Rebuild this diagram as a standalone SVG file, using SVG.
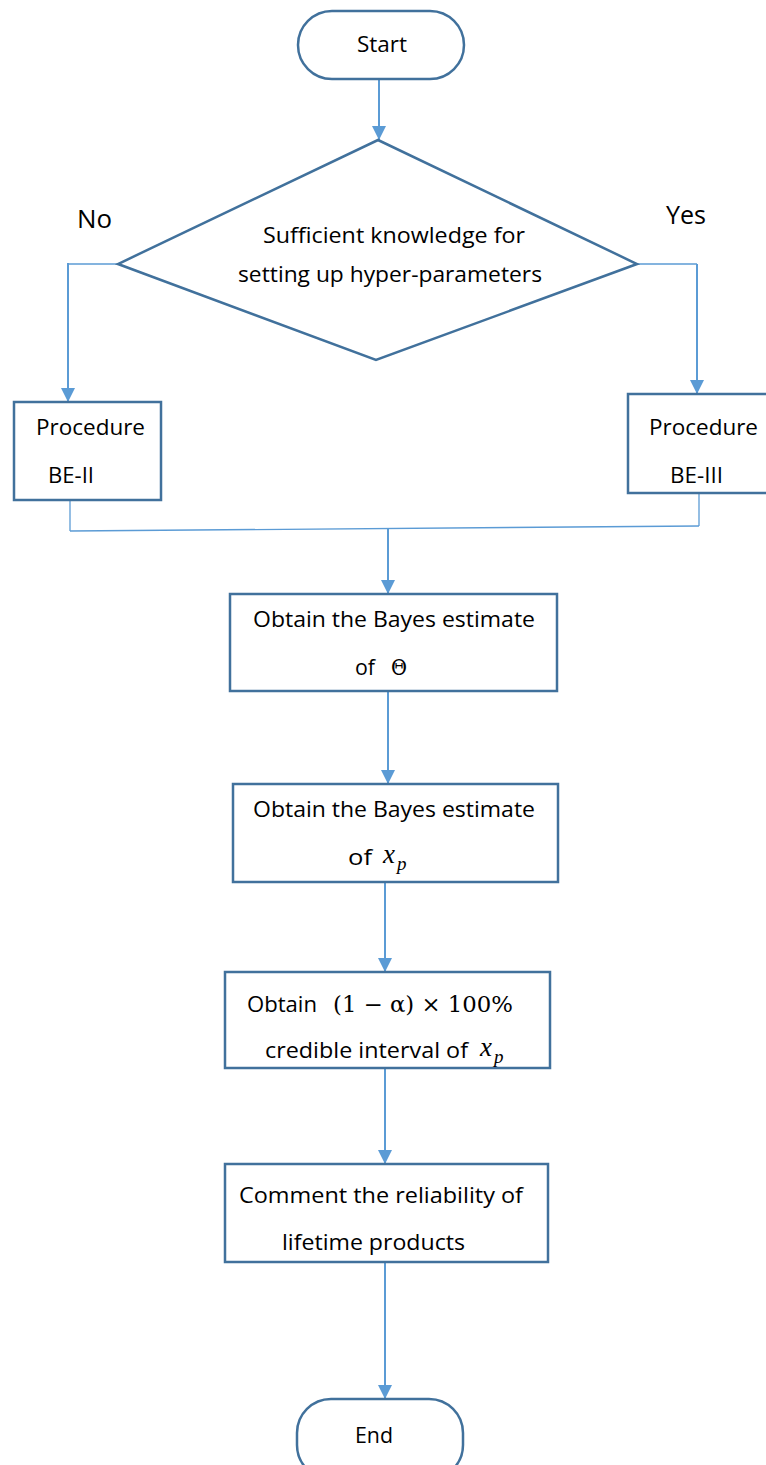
<svg xmlns="http://www.w3.org/2000/svg" width="766" height="1465" viewBox="0 0 766 1465">
<defs>
<style>
.shape{fill:#ffffff;stroke:#41719c;stroke-width:2.5}
.conn{fill:none;stroke:#5b9bd5;stroke-width:2}
.thin{fill:none;stroke:#5b9bd5;stroke-width:1.3}
.t{font-family:"Open Sans","Liberation Sans",sans-serif;font-size:22px;fill:#000}
.big{font-family:"Open Sans","Liberation Sans",sans-serif;font-size:26px;fill:#000}
.m{font-family:"DejaVu Serif","Liberation Serif",serif;font-size:22px;fill:#000}
.mi{font-family:"Liberation Serif","DejaVu Serif",serif;font-style:italic;font-size:27px;fill:#000}
.ms{font-family:"Liberation Serif","DejaVu Serif",serif;font-style:italic;font-size:19px;fill:#000}
</style>
<marker id="ah" markerUnits="userSpaceOnUse" markerWidth="16" markerHeight="16" refX="14" refY="7" orient="auto">
<path d="M0,0 L14,7 L0,14 Z" fill="#5b9bd5"/>
</marker>
</defs>
<rect width="766" height="1465" fill="#ffffff"/>

<g id="connectors">
<line class="conn" x1="379" y1="79" x2="379" y2="140" marker-end="url(#ah)"/>
<polyline class="thin" points="118,264 68,264"/>
<line class="conn" x1="68" y1="263" x2="68" y2="402" marker-end="url(#ah)"/>
<polyline class="thin" points="637,264 697,264"/>
<line class="conn" x1="697" y1="264" x2="697" y2="394" marker-end="url(#ah)"/>
<polyline class="thin" points="70,500 70,531"/>
<polyline class="thin" points="699,493 699,526"/>
<line class="thin" x1="70" y1="531" x2="699" y2="526"/>
<line class="conn" x1="388" y1="528" x2="388" y2="594" marker-end="url(#ah)"/>
<line class="conn" x1="388" y1="691" x2="388" y2="784" marker-end="url(#ah)"/>
<line class="conn" x1="385" y1="882" x2="385" y2="972" marker-end="url(#ah)"/>
<line class="conn" x1="385" y1="1068" x2="385" y2="1164" marker-end="url(#ah)"/>
<line class="conn" x1="385" y1="1262" x2="385" y2="1399" marker-end="url(#ah)"/>
</g>

<g id="start">
<rect class="shape" x="298" y="11" width="166" height="68" rx="34" ry="34"/>
<text class="t" x="357" y="52" textLength="50" lengthAdjust="spacingAndGlyphs">Start</text>
</g>

<g id="decision">
<polygon class="shape" points="378,140 637,264 376,360 118,264"/>
<text class="t" x="263" y="243" textLength="262" lengthAdjust="spacingAndGlyphs">Sufficient knowledge for</text>
<text class="t" x="238" y="282" textLength="304" lengthAdjust="spacingAndGlyphs">setting up hyper-parameters</text>
</g>

<g id="label-no">
<text class="big" x="77" y="228" textLength="35" lengthAdjust="spacingAndGlyphs">No</text>
</g>
<g id="label-yes">
<text class="big" x="666" y="224" textLength="40" lengthAdjust="spacingAndGlyphs">Yes</text>
</g>

<g id="be2">
<rect class="shape" x="14" y="402" width="147" height="98"/>
<text class="t" x="36" y="435" textLength="109" lengthAdjust="spacingAndGlyphs">Procedure</text>
<text class="t" x="48" y="483" textLength="46" lengthAdjust="spacingAndGlyphs">BE-II</text>
</g>

<g id="be3">
<rect class="shape" x="628" y="394" width="145" height="99"/>
<text class="t" x="649" y="435" textLength="109" lengthAdjust="spacingAndGlyphs">Procedure</text>
<text class="t" x="670" y="483" textLength="53" lengthAdjust="spacingAndGlyphs">BE-III</text>
</g>

<g id="bayes-theta">
<rect class="shape" x="230" y="594" width="327" height="97"/>
<text class="t" x="253" y="627" textLength="282" lengthAdjust="spacingAndGlyphs">Obtain the Bayes estimate</text>
<text class="t" x="355" y="675" textLength="20" lengthAdjust="spacingAndGlyphs">of</text>
<text class="m" x="391" y="675" textLength="16" lengthAdjust="spacingAndGlyphs">Θ</text>
</g>

<g id="bayes-xp">
<rect class="shape" x="233" y="784" width="325" height="98"/>
<text class="t" x="253" y="817" textLength="282" lengthAdjust="spacingAndGlyphs">Obtain the Bayes estimate</text>
<text class="t" x="348" y="865" textLength="24" lengthAdjust="spacingAndGlyphs">of</text>
<text class="mi" x="383" y="863">x</text>
<text class="ms" x="397" y="870">p</text>
</g>

<g id="credible">
<rect class="shape" x="225" y="972" width="325" height="96"/>
<text class="t" x="247" y="1012" textLength="70" lengthAdjust="spacingAndGlyphs">Obtain</text>
<text class="m" x="333" y="1012" textLength="180" lengthAdjust="spacingAndGlyphs">(1 − α) × 100%</text>
<text class="t" x="265" y="1058" textLength="203" lengthAdjust="spacingAndGlyphs">credible interval of</text>
<text class="mi" x="480" y="1056">x</text>
<text class="ms" x="494" y="1063">p</text>
</g>

<g id="comment">
<rect class="shape" x="225" y="1164" width="323" height="98"/>
<text class="t" x="239" y="1203" textLength="284" lengthAdjust="spacingAndGlyphs">Comment the reliability of</text>
<text class="t" x="282" y="1250" textLength="183" lengthAdjust="spacingAndGlyphs">lifetime products</text>
</g>

<g id="end">
<rect class="shape" x="297" y="1399" width="166" height="80" rx="34" ry="34"/>
<text class="t" x="355" y="1443" textLength="38" lengthAdjust="spacingAndGlyphs">End</text>
</g>
</svg>
